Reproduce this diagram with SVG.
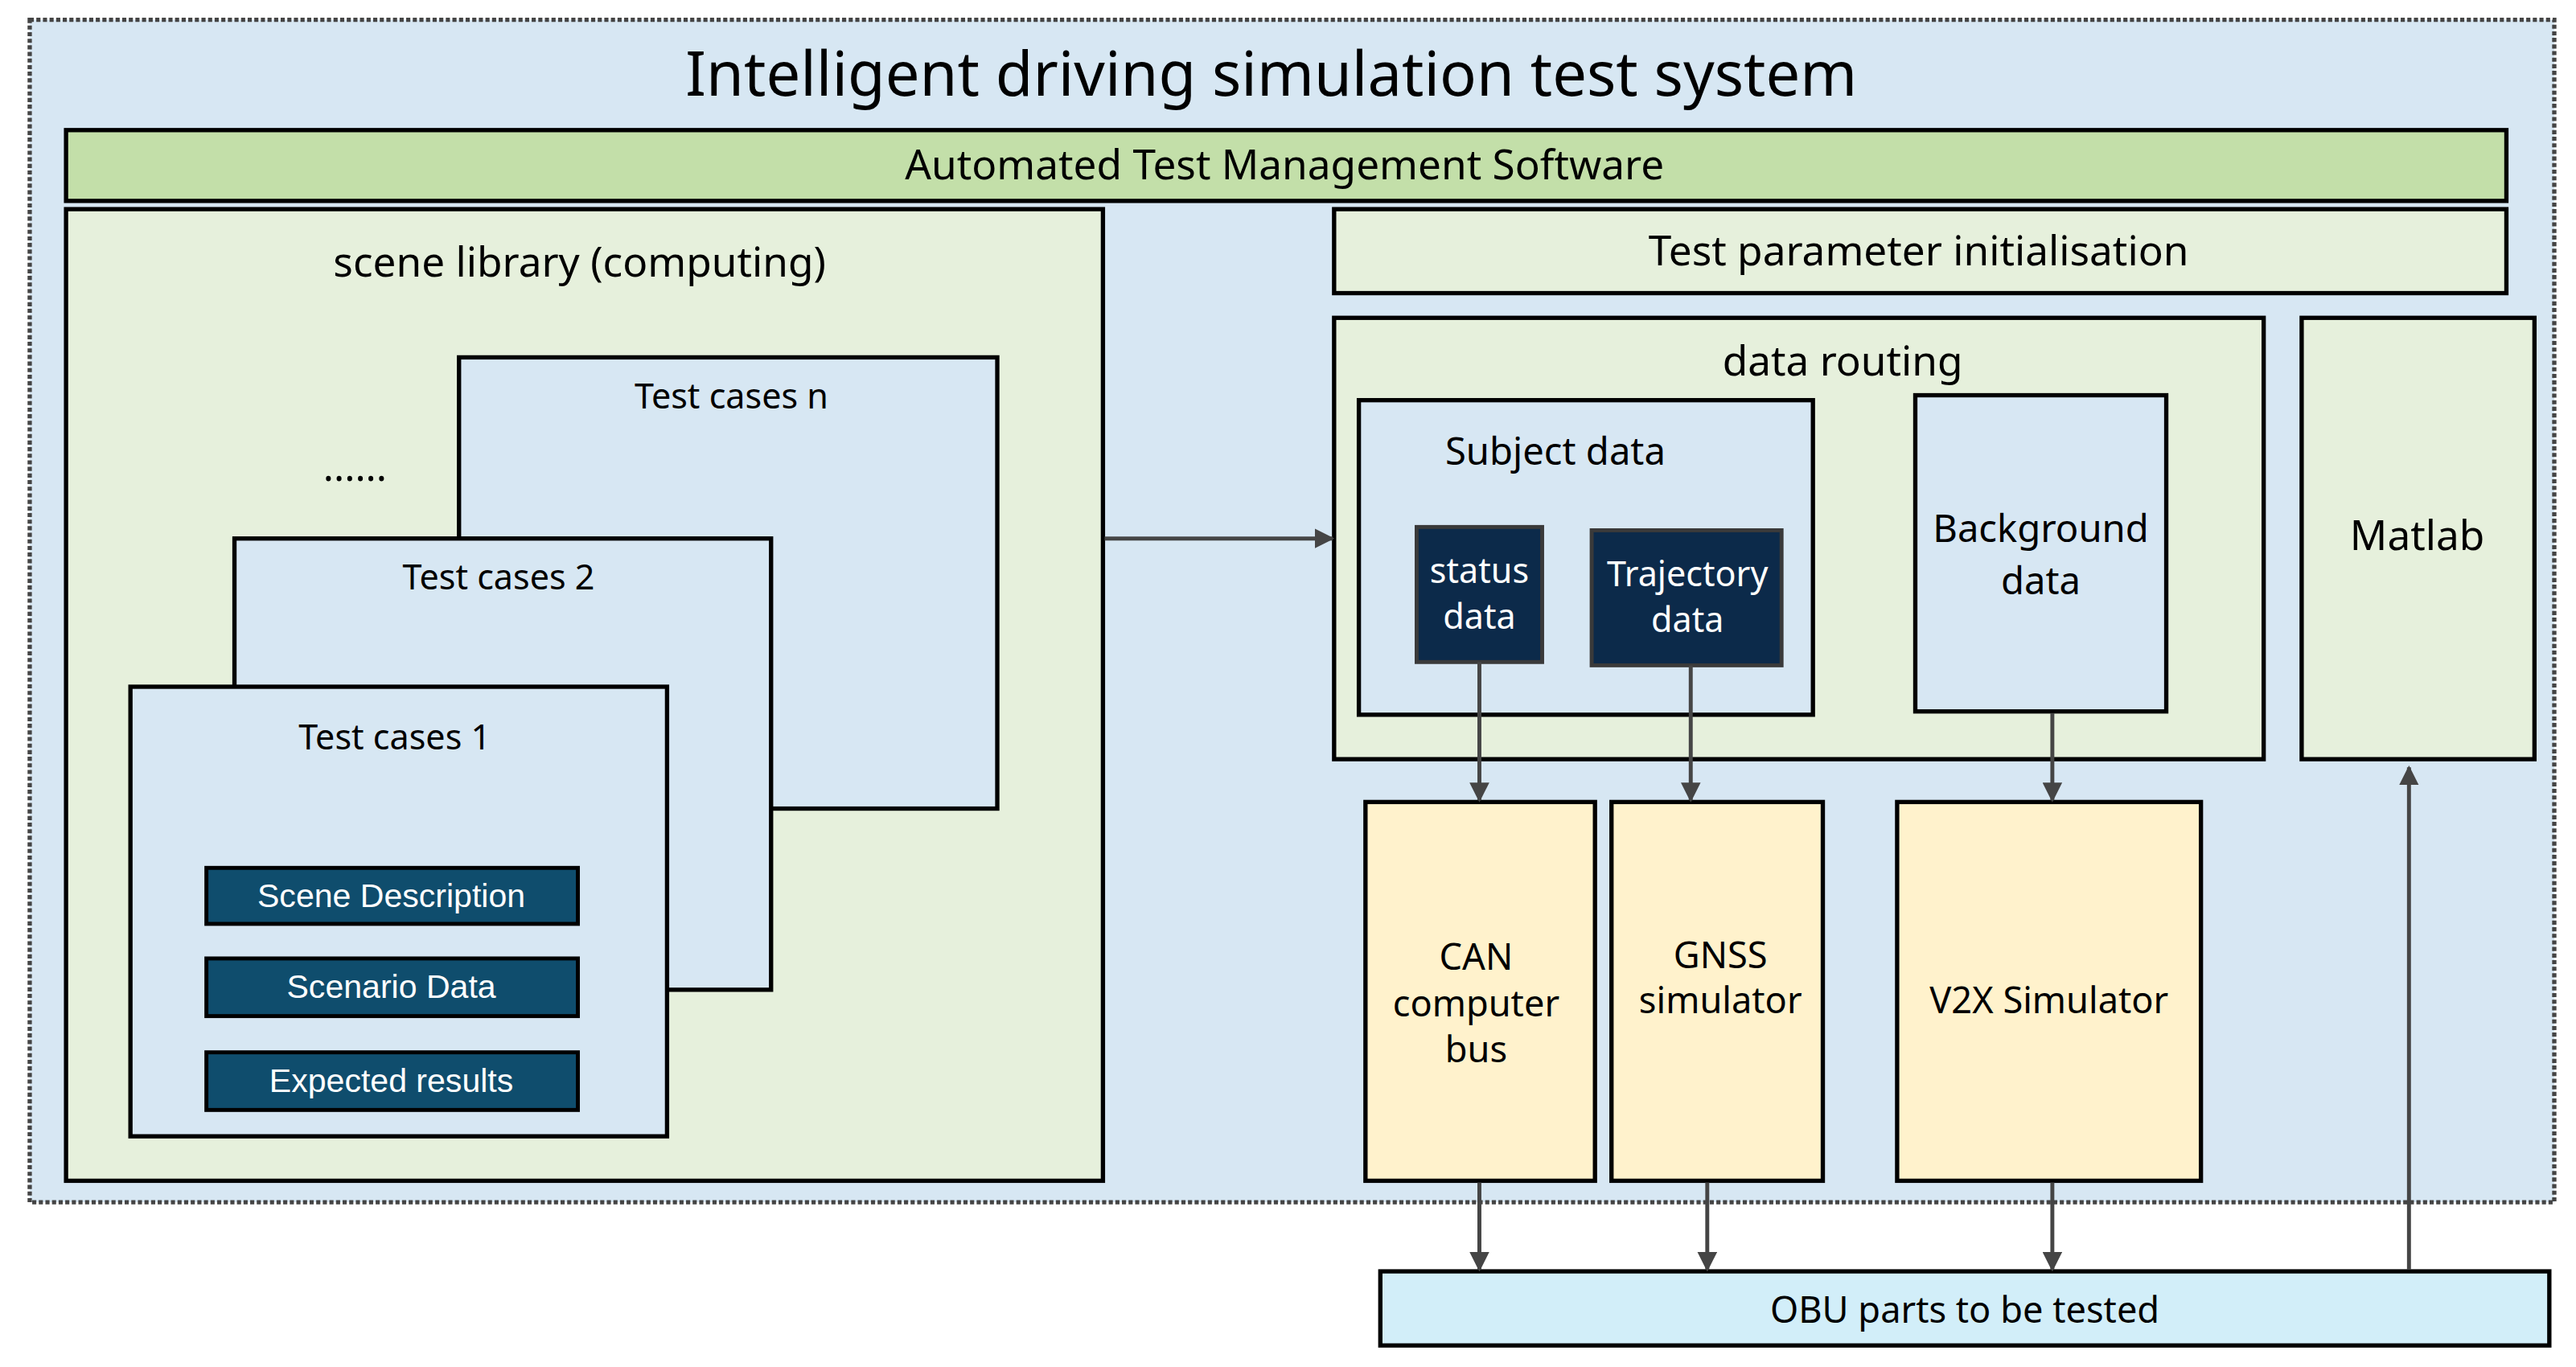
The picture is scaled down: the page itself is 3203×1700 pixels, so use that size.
<svg xmlns="http://www.w3.org/2000/svg" width="3203" height="1700" viewBox="0 0 3203 1700">
<defs>
<style>
text{font-family:"Noto Sans","Open Sans",sans-serif;fill:#000;text-anchor:middle}
.b{stroke:#000;stroke-width:2.6}
.lb{fill:#d7e7f3}.lg{fill:#e6f0dc}.y{fill:#fff2cc}
.dk{fill:#0f4d6d;stroke:#000;stroke-width:2.4}
.dt{font-family:"Liberation Sans",Arial,sans-serif;fill:#fff;font-size:20px}
.nv{fill:#0c2a4a;stroke:#3a3a3a;stroke-width:2.4}
.nt{fill:#fff;font-size:21px}
.c line{stroke:#454545;stroke-width:2.4}
</style>
<marker id="a" viewBox="0 0 10 10" refX="9" refY="5" markerWidth="5" markerHeight="5" orient="auto"><path d="M0,0L10,5L0,10z" fill="#454545"/></marker>
</defs>
<rect width="3203" height="1700" fill="#fff"/>
<g transform="scale(2.053,2.048)">
<g id="system"><rect x="18" y="12" width="1529" height="718" fill="#d7e7f3" stroke="#444" stroke-width="2.6" stroke-dasharray="2.5,1.5"/>
<text x="770" y="58" font-size="37">Intelligent driving simulation test system</text></g>
<g id="atms"><rect x="40" y="79" width="1478" height="43" fill="#c3dfa9" class="b"/><text x="778" y="109" font-size="25">Automated Test Management Software</text></g>
<g id="scene"><rect x="40" y="127" width="628" height="590" class="lg b"/><text x="351" y="168" font-size="25">scene library (computing)</text>
<text x="215" y="292" font-size="24">......</text></g>
<g id="tcn"><rect x="278" y="217" width="326" height="274" class="lb b"/><text x="443" y="248" font-size="21">Test cases n</text></g>
<g id="tc2"><rect x="142" y="327" width="325" height="274" class="lb b"/><text x="302" y="358" font-size="21">Test cases 2</text></g>
<g id="tc1"><rect x="79" y="417" width="325" height="273" class="lb b"/><text x="239" y="455" font-size="21">Test cases 1</text>
<rect x="125" y="527" width="225" height="34" class="dk"/><text class="dt" x="237" y="551">Scene Description</text>
<rect x="125" y="582" width="225" height="35" class="dk"/><text class="dt" x="237" y="606">Scenario Data</text>
<rect x="125" y="639" width="225" height="35" class="dk"/><text class="dt" x="237" y="663">Expected results</text></g>
<g id="tpi"><rect x="808" y="127" width="710" height="51" class="lg b"/><text x="1162" y="161" font-size="25">Test parameter initialisation</text></g>
<g id="routing"><rect x="808" y="193" width="563" height="268" class="lg b"/><text x="1116" y="228" font-size="25">data routing</text></g>
<g id="subject"><rect x="823" y="243" width="275" height="191" class="lb b"/><text x="942" y="282" font-size="23">Subject data</text></g>
<g id="status"><rect x="858" y="320" width="76" height="82" class="nv"/><text class="nt" x="896" y="354">status</text><text class="nt" x="896" y="382">data</text></g>
<g id="traj"><rect x="964" y="322" width="115" height="82" class="nv"/><text class="nt" x="1022" y="356">Trajectory</text><text class="nt" x="1022" y="384">data</text></g>
<g id="bg"><rect x="1160" y="240" width="152" height="192" class="lb b"/><text x="1236" y="329" font-size="23">Background</text><text x="1236" y="361" font-size="23">data</text></g>
<g id="matlab"><rect x="1394" y="193" width="141" height="268" class="lg b"/><text x="1464" y="334" font-size="25">Matlab</text></g>
<g id="can"><rect x="827" y="487" width="139" height="230" class="y b"/><text x="894" y="589" font-size="22">CAN</text><text x="894" y="617" font-size="22">computer</text><text x="894" y="645" font-size="22">bus</text></g>
<g id="gnss"><rect x="976" y="487" width="128" height="230" class="y b"/><text x="1042" y="588" font-size="22">GNSS</text><text x="1042" y="615" font-size="22">simulator</text></g>
<g id="v2x"><rect x="1149" y="487" width="184" height="230" class="y b"/><text x="1241" y="615" font-size="22">V2X Simulator</text></g>
<g id="obu"><rect x="836" y="772" width="708" height="45" fill="#d2eef9" class="b"/><text x="1190" y="803" font-size="22">OBU parts to be tested</text></g>
<g class="c" id="connectors">
<line x1="669" y1="327" x2="807" y2="327" marker-end="url(#a)"/>
<line x1="896" y1="402" x2="896" y2="486" marker-end="url(#a)"/>
<line x1="1024" y1="404" x2="1024" y2="486" marker-end="url(#a)"/>
<line x1="1243" y1="433" x2="1243" y2="486" marker-end="url(#a)"/>
<line x1="896" y1="718" x2="896" y2="771" marker-end="url(#a)"/>
<line x1="1034" y1="718" x2="1034" y2="771" marker-end="url(#a)"/>
<line x1="1243" y1="718" x2="1243" y2="771" marker-end="url(#a)"/>
<line x1="1459" y1="771" x2="1459" y2="466" marker-end="url(#a)"/>
</g>
</g>
</svg>
